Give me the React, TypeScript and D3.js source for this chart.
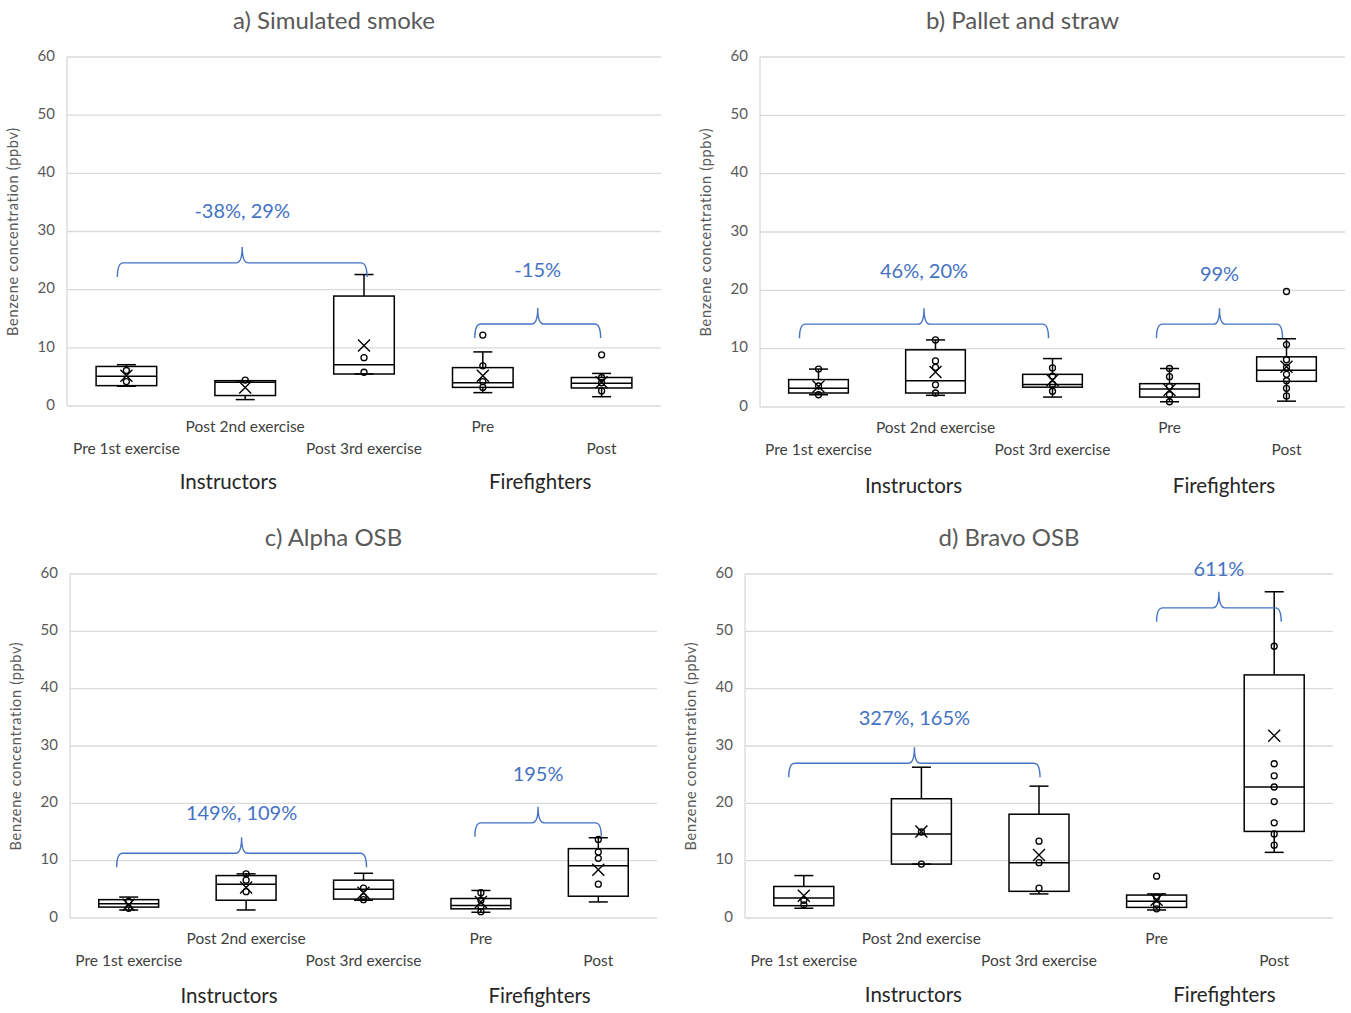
import React from 'react';
import * as d3 from 'd3';

// categories and axis
const categories = ['Pre 1st exercise', 'Post 2nd exercise', 'Post 3rd exercise', 'Pre', 'Post'];
const groups = ['Instructors', 'Firefighters'];
const groupSpans = [[0, 2], [3, 4]];
const yTicks = [0, 10, 20, 30, 40, 50, 60];
const titles = ['a) Simulated smoke', 'b) Pallet and straw', 'c) Alpha OSB', 'd) Bravo OSB'];

// box stats: [low whisker, q1, median, q3, high whisker]
const smokeBoxes = [[3.4, 3.5, 5.1, 6.8, 7.1], [1.1, 1.8, 4.1, 4.35, 4.35], [5.5, 5.5, 7.1, 18.9, 22.6], [2.3, 3.2, 4.0, 6.6, 9.3], [1.6, 3.1, 3.9, 4.9, 5.6]];
const smokeMeans = [5.2, 3.2, 10.4, 5.2, 4.1];
const smokePoints = [[6.1, 4.2], [4.45], [8.3, 5.8], [12.2, 6.9, 4.2, 3.2], [8.8, 4.9, 4.0, 2.6]];

const palletBoxes = [[2.1, 2.4, 3.2, 4.7, 6.5], [2.0, 2.4, 4.5, 9.8, 11.5], [1.7, 3.4, 3.85, 5.6, 8.3], [0.9, 1.7, 3.1, 4.0, 6.6], [1.0, 4.4, 6.3, 8.6, 11.7]];
const palletMeans = [3.5, 6.0, 4.6, 2.9, 6.9];
const palletPoints = [[6.5, 3.6, 2.1], [11.5, 7.9, 6.8, 3.8, 2.4], [6.7, 5.3, 3.9, 2.7], [6.6, 5.2, 3.5, 2.1, 0.9], [19.8, 10.7, 8.1, 6.8, 5.6, 4.5, 3.2, 1.9]];

const alphaBoxes = [[1.4, 1.9, 2.5, 3.2, 3.65], [1.4, 3.1, 5.9, 7.4, 7.7], [3.1, 3.3, 5.0, 6.6, 7.8], [1.0, 1.6, 2.2, 3.4, 4.8], [2.8, 3.8, 9.1, 12.1, 14.0]];
const alphaMeans = [2.3, 5.3, 4.4, 2.8, 8.4];
const alphaPoints = [[2.9, 1.7], [7.7, 6.6, 4.6], [5.2, 3.7, 3.2], [4.4, 3.1, 2.0, 1.1], [13.7, 11.5, 10.4, 5.9]];

const bravoBoxes = [[1.7, 2.15, 3.5, 5.5, 7.4], [9.4, 9.4, 14.65, 20.8, 26.3], [4.2, 4.65, 9.65, 18.1, 23.0], [1.4, 1.85, 2.9, 4.0, 4.2], [11.45, 15.1, 22.85, 42.4, 56.9]];
const bravoMeans = [3.9, 15.1, 11.0, 3.2, 31.8];
const bravoPoints = [[3.1, 2.3], [15.0, 9.4], [13.4, 9.65, 5.2], [7.3, 3.6, 2.3, 1.6], [47.4, 26.9, 24.8, 22.85, 20.3, 16.6, 14.65, 12.7]];

// percentage change annotations: group index, bracket level, label level
const smokeNotes = [{ label: '-38%, 29%', group: 0, level: 24.6, text: 33.2 }, { label: '-15%', group: 1, level: 14.1, text: 23.0 }];
const palletNotes = [{ label: '46%, 20%', group: 0, level: 14.2, text: 23.0 }, { label: '99%', group: 1, level: 14.2, text: 22.5 }];
const alphaNotes = [{ label: '149%, 109%', group: 0, level: 11.3, text: 18.0 }, { label: '195%', group: 1, level: 16.6, text: 24.8 }];
const bravoNotes = [{ label: '327%, 165%', group: 0, level: 27.0, text: 34.5 }, { label: '611%', group: 1, level: 54.1, text: 60.5 }];

const panels = [
  { boxes: smokeBoxes, means: smokeMeans, points: smokePoints, notes: smokeNotes,
    left: 67, right: 661, top: 57, bottom: 406, groupDx: [-17, -2], bracketDx: [[-9, 3], [-8, -1]], groupY: 78 },
  { boxes: palletBoxes, means: palletMeans, points: palletPoints, notes: palletNotes,
    left: 760, right: 1345, top: 57, bottom: 407, groupDx: [-22, -4], bracketDx: [[-19, -4], [-13, -4]], groupY: 81 },
  { boxes: alphaBoxes, means: alphaMeans, points: alphaPoints, notes: alphaNotes,
    left: 70, right: 657, top: 574, bottom: 918, groupDx: [-17, 0], bracketDx: [[-12, 3], [-6, 3]], groupY: 80 },
  { boxes: bravoBoxes, means: bravoMeans, points: bravoPoints, notes: bravoNotes,
    left: 745, right: 1333, top: 574, bottom: 918, groupDx: [-8, 9], bracketDx: [[-15, 1], [0, 7]], groupY: 79 },
];

const font = "Lato, 'Open Sans', sans-serif";
const blue = '#4472C4';

function brace(x0: number, x1: number, y: number) {
  const xm = (x0 + x1) / 2;
  const r = 6, drop = 14, tip = 16;
  return `M${x0},${y + drop} Q${x0},${y} ${x0 + r},${y} L${xm - r},${y} Q${xm},${y} ${xm},${y - tip}` +
    ` M${xm},${y - tip} Q${xm},${y} ${xm + r},${y} L${x1 - r},${y} Q${x1},${y} ${x1},${y + drop}`;
}

function Panel({ p, title }: any) {
  const x = d3.scaleBand().domain(categories).range([p.left, p.right]).padding(0);
  const y = d3.scaleLinear().domain([0, 60]).range([p.bottom, p.top]);
  const bw = x.bandwidth() * 0.51;
  const cx = (i: number) => (x(categories[i]) as number) + x.bandwidth() / 2;

  return (
    <g fontFamily={font}>
      <text x={(p.left + p.right) / 2 - 30} y={p.top - 34} textAnchor="middle" dominantBaseline="middle"
        fontSize={24} fill="#595959">{title}</text>

      {yTicks.map(t => (
        <g key={t}>
          <line x1={p.left} x2={p.right} y1={y(t)} y2={y(t)} stroke="#d9d9d9" strokeWidth={1.3} />
          <text x={p.left - 12} y={y(t)} textAnchor="end" dominantBaseline="middle" fontSize={15} fill="#595959">{t}</text>
        </g>
      ))}
      <line x1={p.left} x2={p.left} y1={p.top} y2={p.bottom} stroke="#d9d9d9" strokeWidth={1.3} />

      <text transform={`translate(${p.left - 53},${(p.top + p.bottom) / 2}) rotate(-90)`} textAnchor="middle"
        dominantBaseline="middle" fontSize={14.5} letterSpacing={0.7} fill="#595959">Benzene concentration (ppbv)</text>

      {categories.map((c, i) => (
        <text key={c} x={cx(i)} y={p.bottom + (i % 2 === 1 ? 22 : 44)} textAnchor="middle" dominantBaseline="middle"
          fontSize={15.5} fill="#404040">{c}</text>
      ))}
      {groups.map((g, gi) => {
        const [a, b] = groupSpans[gi];
        return (
          <text key={g} x={(cx(a) + cx(b)) / 2 + p.groupDx[gi]} y={p.bottom + p.groupY} textAnchor="middle"
            dominantBaseline="middle" fontSize={20.5} fill="#262626">{g}</text>
        );
      })}

      {p.boxes.map((s: number[], i: number) => {
        const c = cx(i);
        const [lo, q1, med, q3, hi] = s;
        const m = y(p.means[i]);
        return (
          <g key={i} stroke="#000" strokeWidth={1.5} fill="none">
            <line x1={c} x2={c} y1={y(hi)} y2={y(q3)} />
            <line x1={c} x2={c} y1={y(q1)} y2={y(lo)} />
            <line x1={c - 9.5} x2={c + 9.5} y1={y(hi)} y2={y(hi)} />
            <line x1={c - 9.5} x2={c + 9.5} y1={y(lo)} y2={y(lo)} />
            <rect x={c - bw / 2} y={y(q3)} width={bw} height={y(q1) - y(q3)} />
            <line x1={c - bw / 2} x2={c + bw / 2} y1={y(med)} y2={y(med)} />
            {p.points[i].map((v: number, k: number) => (
              <circle key={k} cx={c} cy={y(v)} r={3} strokeWidth={1.3} />
            ))}
            <path d={`M${c - 6},${m - 6} L${c + 6},${m + 6} M${c - 6},${m + 6} L${c + 6},${m - 6}`} strokeWidth={1.4} />
          </g>
        );
      })}

      {p.notes.map((n: any, k: number) => {
        const [a, b] = groupSpans[n.group];
        const x0 = cx(a) + p.bracketDx[k][0];
        const x1 = cx(b) + p.bracketDx[k][1];
        return (
          <g key={n.label}>
            <path d={brace(x0, x1, y(n.level))} stroke={blue} strokeWidth={1.4} fill="none" />
            <text x={(x0 + x1) / 2} y={y(n.text)} textAnchor="middle" dominantBaseline="middle"
              fontSize={20} fill={blue}>{n.label}</text>
          </g>
        );
      })}
    </g>
  );
}

export default function App() {
  return (
    <svg width={1351} height={1013} style={{ position: 'absolute', left: 0, top: 0, background: '#fff' }}>
      <rect width={1351} height={1013} fill="#fff" />
      {panels.map((p, i) => <Panel key={i} p={p} title={titles[i]} />)}
    </svg>
  );
}
